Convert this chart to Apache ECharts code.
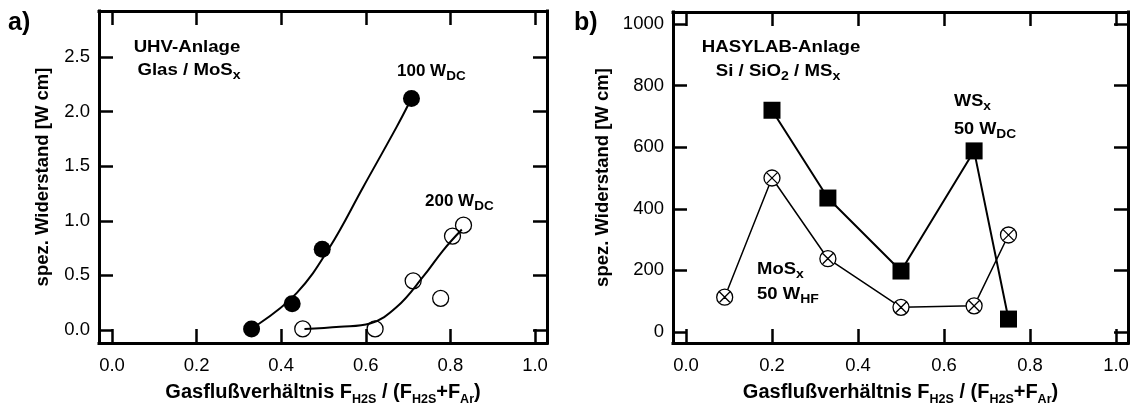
<!DOCTYPE html>
<html>
<head>
<meta charset="utf-8">
<script src="https://cdn.jsdelivr.net/npm/echarts@6/dist/echarts.min.js"></script>
<style>
  html, body { margin: 0; padding: 0; background: #fff; }
  #chart { width: 1138px; height: 403px; }
</style>
</head>
<body>
<div id="chart"></div>
<script>
// tick positions
const xTickValues = [0, 0.2, 0.4, 0.6, 0.8, 1.0];
const yTicksA = [0, 0.5, 1.0, 1.5, 2.0, 2.5];
const yTicksB = [0, 200, 400, 600, 800, 1000];

// a) UHV-Anlage, Glas / MoSx
const dc100Ratio = [0.33, 0.426, 0.497, 0.708];
const dc100Resist = [0.01, 0.24, 0.74, 2.12];
const dc200Ratio = [0.451, 0.622, 0.712, 0.777, 0.805, 0.831];
const dc200Resist = [0.01, 0.01, 0.45, 0.29, 0.86, 0.96];
// trend curves through the measurements
const trend100Ratio = [0.345, 0.437, 0.515, 0.594, 0.673, 0.704];
const trend100Resist = [0.05, 0.34, 0.76, 1.31, 1.86, 2.09];
const trend200Ratio = [0.455, 0.539, 0.61, 0.673, 0.736, 0.783, 0.827];
const trend200Resist = [0.01, 0.03, 0.06, 0.21, 0.49, 0.73, 0.92];

// b) HASYLAB-Anlage, Si / SiO2 / MSx
const wsRatio = [0.2, 0.33, 0.5, 0.67, 0.75];
const wsResist = [720, 435, 198, 588, 42];
const mosRatio = [0.09, 0.2, 0.33, 0.5, 0.67, 0.75];
const mosResist = [113, 500, 238, 80, 85, 315];

const SANS = 'Liberation Sans, Arial, sans-serif';
const pairs = (xs, ys) => xs.map((x, i) => [x, ys[i]]);

// circle with a cross inside
const crossCircle = 'path://M0,10A10,10 0 1,1 20,10A10,10 0 1,1 0,10ZM3.6,3.6L16.4,16.4M16.4,3.6L3.6,16.4';

const xNameRich = {
  b: { fontFamily: SANS, fontWeight: 'bold', fontSize: 20, lineHeight: 24, color: '#000' },
  s: { fontFamily: SANS, fontWeight: 'bold', fontSize: 12.5, lineHeight: 12, padding: [13, 0, 0, 0], color: '#000' }
};
const xName = '{b|Gasflußverhältnis F}{s|H2S}{b| / (F}{s|H2S}{b|+F}{s|Ar}{b|)}';
const yName = 'spez. Widerstand [W cm]';

function frameAxes(gridIndex, dim, min, max, ticks, fmt, extra) {
  const line = { show: true, onZero: false, lineStyle: { color: '#000', width: 3, cap: 'square' } };
  const tick = { show: true, inside: true, length: 14, customValues: ticks, lineStyle: { color: '#000', width: 2.5 } };
  const main = Object.assign({
    type: 'value', gridIndex, min, max,
    position: dim === 'x' ? 'bottom' : 'left',
    axisLine: line,
    axisTick: tick,
    axisLabel: { show: true, customValues: ticks, formatter: fmt, color: '#000', fontFamily: SANS, fontSize: 18.5,
                 margin: dim === 'x' ? 13 : 9 },
    splitLine: { show: false }
  }, extra);
  const mirror = {
    type: 'value', gridIndex, min, max,
    position: dim === 'x' ? 'top' : 'right',
    axisLine: line,
    axisTick: tick,
    axisLabel: { show: false },
    splitLine: { show: false }
  };
  return [main, mirror];
}

const fmt1 = v => v.toFixed(1);
const fmt0 = v => String(v);

const xAxes = [
  ...frameAxes(0, 'x', -0.0307, 1.0284, xTickValues, fmt1, {
    name: xName, nameLocation: 'middle', nameGap: 27, nameTextStyle: { rich: xNameRich }
  }),
  ...frameAxes(1, 'x', -0.0302, 1.0279, xTickValues, fmt1, {
    name: xName, nameLocation: 'middle', nameGap: 27, nameTextStyle: { rich: xNameRich }
  })
];
const yTitleStyle = { fontFamily: SANS, fontWeight: 'bold', fontSize: 18.5, color: '#000' };
const yAxes = [
  ...frameAxes(0, 'y', -0.119, 2.921, yTicksA, fmt1, {
    name: yName, nameLocation: 'middle', nameGap: 47, nameTextStyle: yTitleStyle
  }),
  ...frameAxes(1, 'y', -35.7, 1039, yTicksB, fmt0, {
    name: yName, nameLocation: 'middle', nameGap: 61, nameTextStyle: yTitleStyle
  })
];

const noEmph = { disabled: true };
const series = [
  { type: 'line', xAxisIndex: 0, yAxisIndex: 0, data: pairs(trend100Ratio, trend100Resist), smooth: 0.4,
    showSymbol: false, lineStyle: { color: '#000', width: 2 }, emphasis: noEmph, z: 2 },
  { type: 'line', xAxisIndex: 0, yAxisIndex: 0, data: pairs(trend200Ratio, trend200Resist), smooth: 0.4,
    showSymbol: false, lineStyle: { color: '#000', width: 2 }, emphasis: noEmph, z: 2 },
  { type: 'scatter', xAxisIndex: 0, yAxisIndex: 0, data: pairs(dc100Ratio, dc100Resist), symbol: 'circle',
    symbolSize: 17, itemStyle: { color: '#000', opacity: 1 }, emphasis: noEmph, z: 3 },
  { type: 'scatter', xAxisIndex: 0, yAxisIndex: 0, data: pairs(dc200Ratio, dc200Resist), symbol: 'circle',
    symbolSize: 16, itemStyle: { color: 'rgba(255,255,255,0)', borderColor: '#000', borderWidth: 1.3, opacity: 1 },
    emphasis: noEmph, z: 3 },
  { type: 'line', xAxisIndex: 2, yAxisIndex: 2, data: pairs(wsRatio, wsResist), symbol: 'rect', symbolSize: 17,
    showAllSymbol: true, itemStyle: { color: '#000' }, lineStyle: { color: '#000', width: 2 }, emphasis: noEmph, z: 3 },
  { type: 'line', xAxisIndex: 2, yAxisIndex: 2, data: pairs(mosRatio, mosResist), symbol: crossCircle, symbolSize: 16,
    showAllSymbol: true, itemStyle: { color: '#fff', borderColor: '#000', borderWidth: 1.3 },
    lineStyle: { color: '#000', width: 1.5 }, emphasis: noEmph, z: 2 }
];

// annotation text
function richFor(size, subSize) {
  return {
    b: { fontFamily: SANS, fontWeight: 'bold', fontSize: size, lineHeight: 20, fill: '#000' },
    s: { fontFamily: SANS, fontWeight: 'bold', fontSize: subSize, lineHeight: 10, padding: [11, 0, 0, 0], fill: '#000' }
  };
}
function note(x, y, text, align, scaleX, size, subSize) {
  return {
    type: 'text', x, y, scaleX: scaleX || 1, silent: true, z: 10,
    style: { text, rich: richFor(size || 16.5, subSize || 12.5), align: align || 'left', verticalAlign: 'top' }
  };
}
function panelTag(x, text) {
  return {
    type: 'text', x, y: 11, silent: true,
    style: { text, fontFamily: SANS, fontWeight: 'bold', fontSize: 25, fill: '#000', align: 'left', verticalAlign: 'top' }
  };
}

const graphic = [
  panelTag(8, 'a)'),
  panelTag(574, 'b)'),
  note(187, 37, '{b|UHV-Anlage}', 'center', 1.13),
  note(189, 60, '{b|Glas / MoS}{s|x}', 'center', 1.13),
  note(397, 61, '{b|100 W}{s|DC}', 'left', 1.0, 17, 13.5),
  note(425, 191, '{b|200 W}{s|DC}', 'left', 1.0, 17, 13.5),
  note(781, 37, '{b|HASYLAB-Anlage}', 'center', 1.13),
  note(778, 61, '{b|Si / SiO}{s|2}{b| / MS}{s|x}', 'center', 1.13),
  note(954, 91, '{b|WS}{s|x}', 'left', 1.1),
  note(954, 119, '{b|50 W}{s|DC}', 'left', 1.1),
  note(757, 259, '{b|MoS}{s|x}', 'left', 1.12),
  note(757, 284, '{b|50 W}{s|HF}', 'left', 1.12)
];

const chart = echarts.init(document.getElementById('chart'), null, { renderer: 'canvas' });
chart.setOption({
  animation: false,
  backgroundColor: '#fff',
  grid: [
    { left: 99, right: 1138 - 547, top: 11, bottom: 403 - 343, outerBoundsMode: 'none', containLabel: false },
    { left: 673, right: 1138 - 1128, top: 12, bottom: 403 - 343, outerBoundsMode: 'none', containLabel: false }
  ],
  xAxis: xAxes,
  yAxis: yAxes,
  series,
  graphic
});
</script>
</body>
</html>
